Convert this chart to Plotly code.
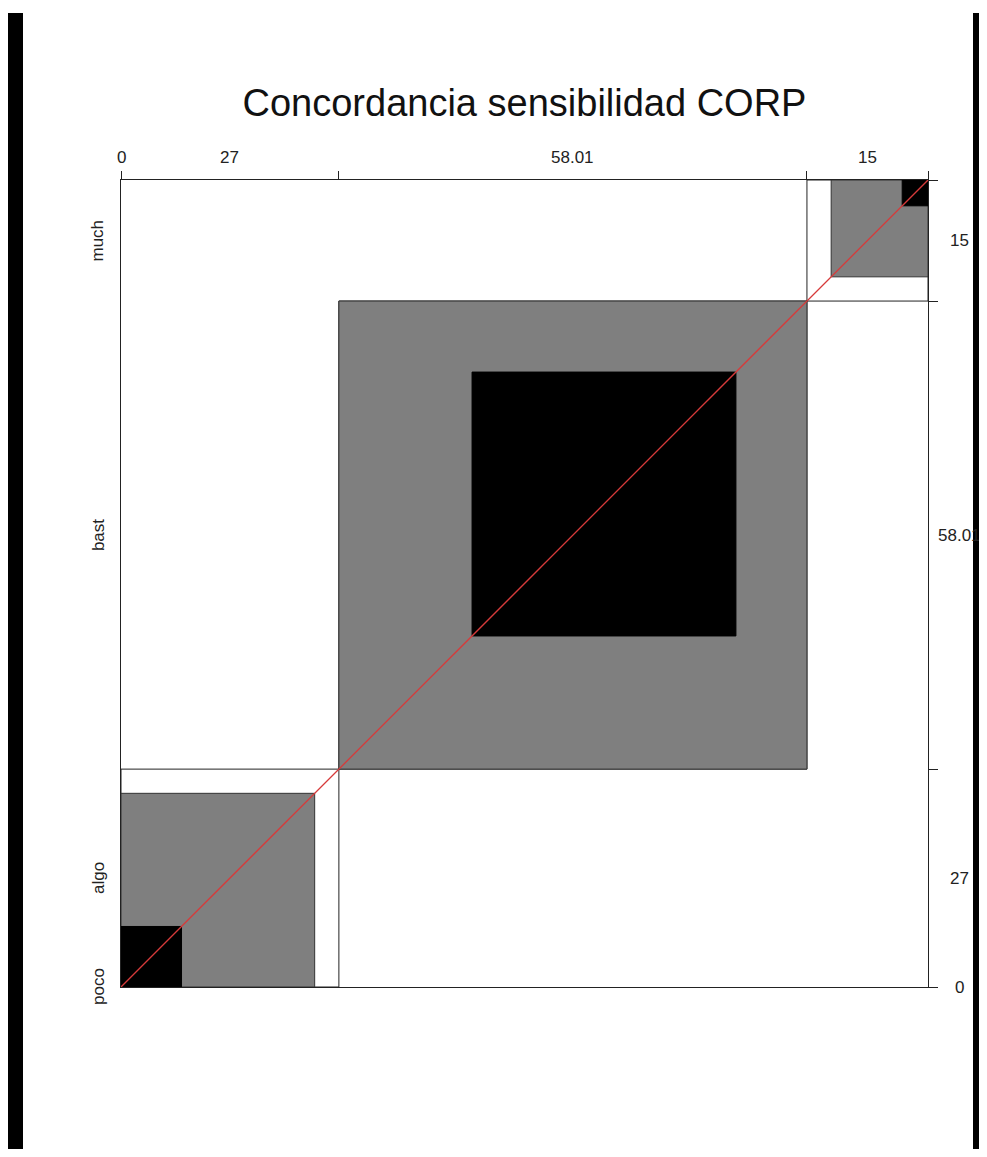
import numpy as np
import plotly.graph_objects as go

# ---------------- data ----------------
levels = ["poco", "algo", "bast", "much"]          # category names (rows, left side)
top_labels = ["0", "27", "58.01", "15"]            # labels printed on top axis
right_labels = ["0", "27", "58.01", "15"]          # labels printed on right axis
# agreement table in percent (rows = rater A, columns = rater B)
row_poco = [0.0, 0.0, 0.0, 0.0]
row_algo = [0.0, 7.5, 16.5, 3.0]
row_bast = [0.0, 16.5, 32.7, 8.8]
row_much = [0.0, 3.0, 8.8, 3.2]
title_text = "Concordancia sensibilidad CORP"

tab = np.array([row_poco, row_algo, row_bast, row_much])
n = len(levels)
col_tot = tab.sum(axis=0)
row_tot = tab.sum(axis=1)
xc = np.concatenate([[0.0], np.cumsum(col_tot)])
yc = np.concatenate([[0.0], np.cumsum(row_tot)])
total = tab.sum()

# ---------------- page geometry ----------------
# the html body adds an 8px margin, so the figure is offset by (8, 8) on the page
OFF = 8
W, H = 987 - OFF, 1157 - 2 * OFF
L, T = 121 - OFF, 180 - OFF
PW = PH = 807
R = W - L - PW
B = H - T - PH

FONT = "Liberation Sans, Arial, Helvetica, sans-serif"
GRAY = "#7f7f7f"
EDGE = "#222222"

shapes = []

def rect(x0, y0, x1, y1, fill, line_col=EDGE, lw=1):
    shapes.append(dict(type="rect", xref="x", yref="y", x0=x0, y0=y0, x1=x1, y1=y1,
                       fillcolor=fill, line=dict(color=line_col, width=lw), layer="below"))

for i in range(n):
    if col_tot[i] == 0 or row_tot[i] == 0:
        continue
    # marginal box
    rect(xc[i], yc[i], xc[i + 1], yc[i + 1], "white")
    # partial agreement (band 1) then exact agreement (band 0)
    for band, color in [(1, GRAY), (0, "black")]:
        lb = max(0, i - band)
        ub = min(n - 1, i + band)
        x0 = xc[i] + tab[:lb, i].sum()
        x1 = x0 + tab[lb:ub + 1, i].sum()
        y0 = yc[i] + tab[i, :lb].sum()
        y1 = y0 + tab[i, lb:ub + 1].sum()
        rect(x0, y0, x1, y1, color, line_col=("#333333" if band else "black"))

# decorative black borders of the scanned page (page pixel positions)
def px_to_paper_x(px):
    return (px - OFF - L) / PW

def px_to_paper_y(py):
    return (T + PH - (py - OFF)) / PH

for bx0, bx1 in [(8, 23), (973, 995)]:
    shapes.append(dict(type="rect", xref="paper", yref="paper",
                       x0=px_to_paper_x(bx0), x1=px_to_paper_x(bx1),
                       y0=px_to_paper_y(13), y1=px_to_paper_y(1170),
                       fillcolor="black", line=dict(width=0), layer="above"))

fig = go.Figure()
fig.add_trace(go.Scatter(x=[0, total], y=[0, total], mode="lines",
                         line=dict(color="#d63a3a", width=1.3),
                         hoverinfo="skip", showlegend=False))

annotations = []
for i in range(n):
    annotations.append(dict(x=(xc[i] + xc[i + 1]) / 2, y=1, xref="x", yref="paper",
                            text=top_labels[i], showarrow=False, yanchor="middle",
                            xanchor="center", yshift=23,
                            font=dict(family=FONT, size=17, color="#222222")))
    annotations.append(dict(x=0, y=(yc[i] + yc[i + 1]) / 2, xref="paper", yref="y",
                            text=levels[i], showarrow=False, textangle=-90,
                            xanchor="center", yanchor="middle", xshift=-23,
                            font=dict(family=FONT, size=17, color="#222222")))
    annotations.append(dict(x=1, y=(yc[i] + yc[i + 1]) / 2, xref="paper", yref="y",
                            text=right_labels[i], showarrow=False,
                            xanchor="center", yanchor="middle", xshift=31,
                            font=dict(family=FONT, size=17, color="#222222")))

fig.update_layout(
    width=W, height=H,
    margin=dict(l=L, r=R, t=T, b=B, pad=0),
    paper_bgcolor="white", plot_bgcolor="white",
    title=dict(text=title_text, x=0.5, xref="paper", xanchor="center",
               y=1 - (103 - OFF) / H, yref="container", yanchor="middle",
               font=dict(family=FONT, size=38, color="#111111")),
    shapes=shapes,
    annotations=annotations,
    showlegend=False,
    xaxis=dict(range=[0, total], side="top", showline=True, linecolor=EDGE, linewidth=1,
               mirror=True, ticks="outside", ticklen=8, tickcolor=EDGE, tickwidth=1,
               tickvals=list(xc), showticklabels=False, showgrid=False, zeroline=False,
               fixedrange=True),
    yaxis=dict(range=[0, total], side="right", showline=True, linecolor=EDGE, linewidth=1,
               mirror=True, ticks="outside", ticklen=9, tickcolor=EDGE, tickwidth=1,
               tickvals=list(yc), showticklabels=False, showgrid=False, zeroline=False,
               fixedrange=True),
)

fig.write_html("out.html")
